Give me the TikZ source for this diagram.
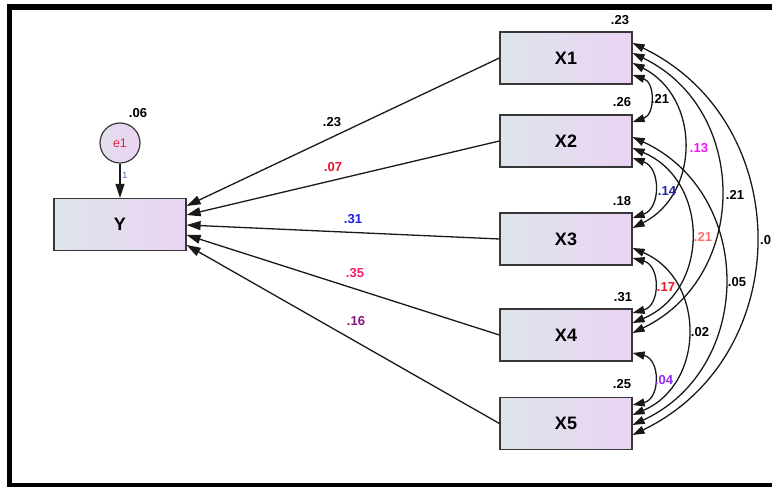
\documentclass[tikz,border=0pt]{standalone}
\usepackage{fontspec}
\setmainfont{Liberation Sans}
\usetikzlibrary{arrows.meta}

\definecolor{boxL}{RGB}{221,229,234}
\definecolor{boxR}{RGB}{234,211,243}
\definecolor{edgegray}{RGB}{55,55,55}
\definecolor{linegray}{RGB}{25,25,25}
\definecolor{cRed}{RGB}{235,20,40}
\definecolor{cBlue}{RGB}{30,30,230}
\definecolor{cRose}{RGB}{240,30,110}
\definecolor{cPurple}{RGB}{140,20,130}
\definecolor{cMagenta}{RGB}{240,20,240}
\definecolor{cNavy}{RGB}{30,30,160}
\definecolor{cSalmon}{RGB}{255,110,110}
\definecolor{cViolet}{RGB}{140,40,240}
\definecolor{cErr}{RGB}{225,40,60}
\definecolor{cSteel}{RGB}{60,110,170}

\begin{document}
\begin{tikzpicture}[x=1pt,y=1pt,
  obs/.style={draw=edgegray, line width=1.2pt, left color=boxL, right color=boxR,
    minimum width=132pt, minimum height=52pt, inner sep=0pt,
    font=\fontsize{18}{18}\selectfont\bfseries},
  err/.style={circle, draw=edgegray, line width=1.2pt, left color=boxL!60!boxR, right color=boxR,
    minimum size=40pt, inner sep=0pt, text=cErr, font=\fontsize{12.5}{12.5}\selectfont},
  val/.style={inner sep=0pt, font=\fontsize{13}{13}\selectfont\bfseries},
  reg/.style={draw=linegray, line width=1.3pt, -{Triangle[length=14pt,width=9pt]}},
  cov/.style={draw=linegray, line width=1.3pt,
    {Triangle[length=12pt,width=8pt]}-{Triangle[length=12pt,width=8pt]}}
]
\useasboundingbox (0,0) rectangle (772,487);

% outer frame
\draw[line width=5.5pt] (9.5,1.5) rectangle (790,480);

% observed variables
\node[obs] (X1) at (566,429) {X1};
\node[obs] (X2) at (566,346) {X2};
\node[obs] (X3) at (566,248) {X3};
\node[obs] (X4) at (566,152) {X4};
\node[obs] (X5) at (566,63.5) {X5};
\node[obs] (Y)  at (120,262.5) {Y};
\node[err] (e1) at (120,344) {e1};

% error term
\draw[reg] (e1) -- (Y);
\node[inner sep=0pt, text=cSteel, font=\fontsize{9}{9}\selectfont] (one) at (125,312) {1};
\node[val] (ve1) at (138,374) {.06};

% variances
\node[val] (v1) at (620,467) {.23};
\node[val] (v2) at (622,385) {.26};
\node[val] (v3) at (622,286) {.18};
\node[val] (v4) at (623,190) {.31};
\node[val] (v5) at (622,103) {.25};

% regression paths
\draw[reg] (X1.west) -- ([yshift=18.5pt]Y.east);
\draw[reg] (X2.west) -- ([yshift=9.5pt]Y.east);
\draw[reg] (X3.west) -- ([yshift=-0.5pt]Y.east);
\draw[reg] (X4.west) -- ([yshift=-10.5pt]Y.east);
\draw[reg] (X5.west) -- ([yshift=-20.5pt]Y.east);

\node[val] (b1) at (332,365) {.23};
\node[val, text=cRed] (b2) at (333,320) {.07};
\node[val, text=cBlue] (b3) at (353,268) {.31};
\node[val, text=cRose] (b4) at (355,214) {.35};
\node[val, text=cPurple] (b5) at (356,166) {.16};

% covariances
\draw[cov] ([yshift=-17pt]X1.east) to[bend left=71.8, looseness=1.30] ([yshift=19pt]X2.east);
\draw[cov] ([yshift=-17pt]X2.east) to[bend left=70.9, looseness=1.28] ([yshift=21pt]X3.east);
\draw[cov] ([yshift=-19pt]X3.east) to[bend left=74.8, looseness=1.35] ([yshift=22pt]X4.east);
\draw[cov] ([yshift=-18pt]X4.east) to[bend left=77.8, looseness=1.41] ([yshift=18.5pt]X5.east);
\draw[cov] ([yshift=-5pt]X1.east)  to[bend left=63.4, looseness=1.18] ([yshift=11pt]X3.east);
\draw[cov] ([yshift=-7pt]X2.east)  to[bend left=67.1, looseness=1.23] ([yshift=12pt]X4.east);
\draw[cov] ([yshift=-9pt]X3.east)  to[bend left=66.8, looseness=1.22] ([yshift=8.5pt]X5.east);
\draw[cov] ([yshift=5pt]X1.east)   to[bend left=64.3, looseness=1.19] ([yshift=2pt]X4.east);
\draw[cov] ([yshift=4pt]X2.east)   to[bend left=65.2, looseness=1.20] ([yshift=-1.5pt]X5.east);
\draw[cov] ([yshift=15pt]X1.east)  to[bend left=64.2, looseness=1.19] ([yshift=-11.5pt]X5.east);

\node[val] (c12) at (660,388) {.21};
\node[val, text=cNavy] (c23) at (667,296) {.14};
\node[val, text=cRed] (c34) at (666,200) {.17};
\node[val, text=cViolet] (c45) at (664,107) {.04};
\node[val, text=cMagenta] (c13) at (699,339) {.13};
\node[val, text=cSalmon] (c24) at (703,250) {.21};
\node[val] (c35) at (700,155) {.02};
\node[val] (c14) at (735,292) {.21};
\node[val] (c25) at (737,205) {.05};
\node[val, anchor=west] (c15) at (760,247) {.0};
\end{tikzpicture}
\end{document}
